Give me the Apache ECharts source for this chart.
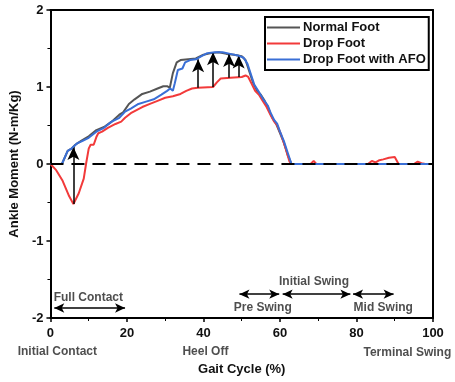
<!DOCTYPE html>
<html>
<head>
<meta charset="utf-8">
<script src="https://cdn.jsdelivr.net/npm/echarts@6/dist/echarts.min.js"></script>
<style>
html,body{margin:0;padding:0;background:#fff;}
#main{width:455px;height:382px;}
</style>
</head>
<body>
<div id="main"></div>
<script>
// gait cycle (%) vs ankle moment (N-m/Kg)
var normalFoot = [[0,0],[3,0],[4.5,0.17],[5.5,0.2],[6.5,0.25],[8,0.3],[10,0.36],[12,0.44],[14,0.48],[16,0.55],[18,0.64],[19,0.67],[20.5,0.78],[22,0.84],[24,0.91],[26,0.94],[28,0.98],[29.5,1.01],[30.5,1.01],[31.2,0.99],[32,1.18],[33,1.32],[34,1.35],[36,1.36],[38,1.37],[40,1.42],[42,1.44],[44,1.45],[46,1.43],[48,1.42],[50,1.4],[51,1.35],[52,1.2],[53,1.05],[54,0.95],[55,0.9],[56,0.82],[57,0.72],[58,0.6],[59,0.52],[60,0.4],[61,0.28],[62,0.12],[63,0],[100,0]];
var dropFoot = [[0,0],[1.5,-0.08],[3.1,-0.21],[4.9,-0.42],[6,-0.52],[7.4,-0.38],[8.7,-0.19],[9.3,0],[10,0.2],[10.5,0.25],[11.3,0.25],[12,0.35],[12.5,0.4],[13.5,0.42],[15,0.47],[17,0.52],[18.5,0.55],[19.5,0.6],[21,0.66],[22.5,0.7],[24,0.74],[26,0.78],[28,0.82],[30,0.86],[32,0.88],[34,0.91],[35.5,0.95],[37,0.98],[38.5,0.99],[39,1.0],[42.5,1.0],[43.5,1.06],[44.5,1.11],[47,1.12],[50,1.13],[51,1.15],[51.7,1.13],[52.5,1.05],[53.5,0.95],[54.5,0.9],[55.5,0.82],[56.5,0.74],[57.5,0.64],[58.5,0.55],[59.3,0.5],[60.3,0.38],[61.5,0.2],[62.5,0.03],[63,0],[68,0],[68.8,0.04],[69.5,0],[74,0],[74.5,0.02],[75,0],[83,0],[84,0.04],[85,0.02],[86,0.05],[87,0.06],[88.5,0.08],[90,0.09],[91,0],[95,0],[96,0.03],[97,0.01],[98,0],[100,0]];
var dropFootAFO = [[0,0],[3,0],[4.5,0.17],[5.5,0.2],[6,0.22],[7,0.27],[8,0.29],[10,0.34],[12,0.42],[14,0.47],[16,0.55],[18,0.6],[19.5,0.68],[21,0.72],[23,0.78],[25,0.81],[27,0.84],[29,0.9],[30.5,0.95],[31.3,0.98],[32,0.95],[32.5,1.05],[33.3,1.22],[34.5,1.24],[35.2,1.32],[36.5,1.35],[38,1.36],[39.5,1.4],[41,1.44],[43,1.45],[45,1.45],[47,1.43],[49,1.41],[50.5,1.38],[51.5,1.3],[52.5,1.15],[53.3,1.03],[54.3,0.95],[55.5,0.85],[56.8,0.76],[57.5,0.67],[58.5,0.57],[59.3,0.52],[60,0.42],[61,0.3],[62,0.15],[63,0],[100,0]];

// zero reference line (dashed)
var zeroLine = [[0,0],[100,0]];

// improvement arrows: x, from (drop foot), to (with AFO)
var arrowX = [6, 38.6, 42.5, 46.7, 49.2];
var arrowFrom = [-0.52, 0.99, 1.0, 1.12, 1.13];
var arrowTo = [0.22, 1.36, 1.45, 1.43, 1.41];

// phase ranges: start, end, level
var phaseStart = [1, 49.4, 60.7, 79.1];
var phaseEnd = [19.5, 59.8, 78.4, 89.7];
var phaseY = [-1.87, -1.69, -1.69, -1.69];

// text annotations
var noteText = ['Full Contact', 'Pre Swing', 'Initial Swing', 'Mid Swing', 'Initial Contact', 'Heel Off', 'Terminal Swing'];
var noteX = [9.9, 55.5, 68.9, 87, 1.8, 40.5, 93.3];
var noteY = [-1.73, -1.86, -1.53, -1.87, -2.44, -2.44, -2.45];

var xTicks = [0, 20, 40, 60, 80, 100];
var yTicks = [-2, -1, 0, 1, 2];

var myChart = echarts.init(document.getElementById('main'));

var arrowLines = arrowX.map(function(x, i){
    return [{coord:[x, arrowFrom[i]]}, {coord:[x, arrowTo[i]]}];
});
var phaseLines = phaseStart.map(function(s, i){
    return [{coord:[s, phaseY[i]]}, {coord:[phaseEnd[i], phaseY[i]]}];
});
var notes = noteText.map(function(t, i){
    return {name:t, value:[noteX[i], noteY[i]]};
});

var font = 'Liberation Sans';
var option = {
    animation: false,
    grid: {left:48, right:22, top:10, bottom:64},
    legend: {
        data: ['Normal Foot', 'Drop Foot', 'Drop Foot with AFO'],
        orient: 'vertical',
        left: 265, top: 17,
        icon: 'rect',
        itemWidth: 33, itemHeight: 2,
        itemGap: 1,
        padding: [3, 3, 3, 2],
        borderColor: '#000', borderWidth: 2,
        textStyle: {fontFamily:font, fontWeight:'bold', fontSize:13, color:'#111', lineHeight:15, padding:[0,0,0,-2]}
    },
    xAxis: [{
        type: 'value', min: 0, max: 100, interval: 20, position: 'bottom',
        name: 'Gait Cycle (%)', nameLocation: 'middle', nameGap: 45,
        nameTextStyle: {fontFamily:font, fontWeight:'bold', fontSize:13, color:'#111'},
        axisLine: {show:true, onZero:false, lineStyle:{color:'#000', width:2}},
        axisTick: {show:true, length:4, lineStyle:{width:1.5}},
        minorTick: {show:true, splitNumber:2, length:3},
        splitLine: {show:false},
        axisLabel: {fontFamily:font, fontWeight:'bold', fontSize:13, color:'#111', margin:9,
            formatter: function(v){ return xTicks.indexOf(v) >= 0 ? v : ''; }}
    }, {
        type: 'value', min: 0, max: 100, position: 'top',
        axisLine: {show:true, onZero:false, lineStyle:{color:'#000', width:2}},
        axisTick: {show:false}, axisLabel: {show:false}, splitLine: {show:false}
    }],
    yAxis: [{
        type: 'value', min: -2, max: 2, interval: 1, position: 'left',
        name: 'Ankle Moment (N-m/Kg)', nameLocation: 'middle', nameGap: 21,
        nameTextStyle: {fontFamily:font, fontWeight:'bold', fontSize:13, color:'#111'},
        axisLine: {show:true, onZero:false, lineStyle:{color:'#000', width:2}},
        axisTick: {show:true, length:4, lineStyle:{width:1.5}},
        minorTick: {show:true, splitNumber:2, length:3},
        splitLine: {show:false},
        axisLabel: {fontFamily:font, fontWeight:'bold', fontSize:13, color:'#111', margin:7,
            formatter: function(v){ return yTicks.indexOf(v) >= 0 ? v : ''; }}
    }, {
        type: 'value', min: -2, max: 2, position: 'right',
        axisLine: {show:true, onZero:false, lineStyle:{color:'#000', width:2}},
        axisTick: {show:false}, axisLabel: {show:false}, splitLine: {show:false}
    }],
    series: [{
        name: 'Arrows', type: 'line', data: [], silent: true,
        markLine: {
            silent: true, animation: false,
            symbol: ['none', 'arrow'], symbolSize: [9, 13],
            label: {show:false},
            lineStyle: {color:'#000', width:1.5, type:'solid'},
            data: arrowLines
        }
    }, {
        name: 'Normal Foot', type: 'line', data: normalFoot, showSymbol: false,
        lineStyle: {color:'#555', width:2}, itemStyle: {color:'#555'},
        z: 3
    }, {
        name: 'Drop Foot', type: 'line', data: dropFoot, showSymbol: false,
        lineStyle: {color:'#f23a3a', width:2}, itemStyle: {color:'#f23a3a'},
        z: 4
    }, {
        name: 'Drop Foot with AFO', type: 'line', data: dropFootAFO, showSymbol: false,
        lineStyle: {color:'#3a6fd6', width:2}, itemStyle: {color:'#3a6fd6'},
        z: 5
    }, {
        name: 'Zero', type: 'line', data: zeroLine, showSymbol: false, silent: true,
        lineStyle: {color:'#000', width:2, type:[13, 8]}, itemStyle: {color:'#000'},
        z: 6
    }, {
        name: 'Phases', type: 'line', data: [], silent: true,
        markLine: {
            silent: true,
            symbol: ['arrow', 'arrow'], symbolSize: [7, 10],
            label: {show:false},
            lineStyle: {color:'#000', width:1.5, type:'solid'},
            data: phaseLines
        }
    }, {
        name: 'Notes', type: 'scatter', data: notes, symbolSize: 0, clip: false, silent: true,
        label: {show:true, position:'inside', formatter:'{b}',
            fontFamily:font, fontWeight:'bold', fontSize:12, color:'#222'}
    }]
};

myChart.setOption(option);
</script>
</body>
</html>
